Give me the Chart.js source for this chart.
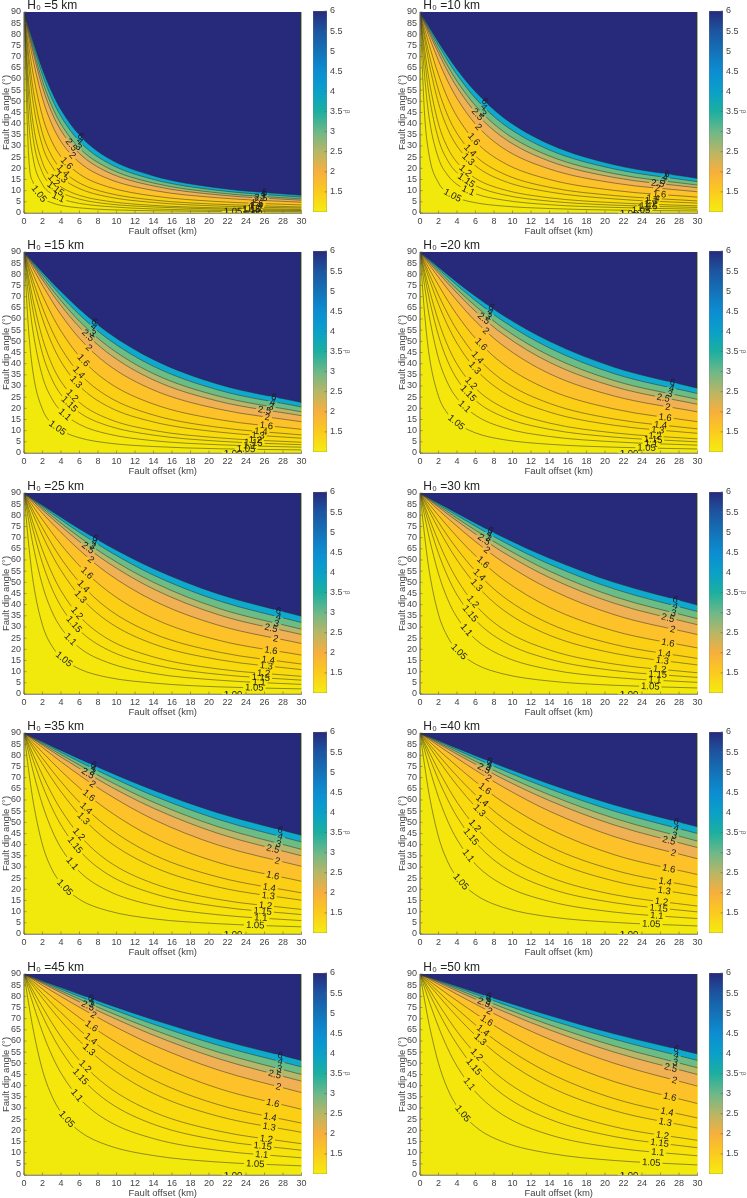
<!DOCTYPE html>
<html><head><meta charset="utf-8">
<style>html,body{margin:0;padding:0;background:#fff;width:747px;height:1198px;overflow:hidden}canvas{position:absolute}</style>
<script src="https://cdn.jsdelivr.net/npm/chart.js@4"></script>
</head><body>
<script>
// fault offset (km) at which each contour was read
const offsets = [0.5,1,2,3,4,6,9,14,21,30];
// contour levels of beta and the colour of the band above each level
const levels = ['1.00','1.05','1.1','1.15','1.2','1.3','1.4','1.6','2','2.5','3','4','6'];
const bandColors = ['#F2E90C','#F5E60B','#F7E30B','#F8DF0C','#F9DB0D','#FAD50F','#FBCF14','#FDC12A','#F0B155','#B5B76A','#6BBD85','#0FA9CE','#27297A'];
const baseColor = '#F2E90E';
const crustThickness = [5,10,15,20,25,30,35,40,45,50];
const xTicksStep = 2, yTicksStep = 5;
const colorbarTicks = [1.5,2,2.5,3,3.5,4,4.5,5,5.5,6];
const colorbarRange = [1,6];
const colorbarStops = [[1,'#F5EC0F'],[1.5,'#FBCB1E'],[2,'#F7AF3E'],[2.5,'#B8B666'],[3,'#6CB888'],[3.5,'#1CAFA0'],[4,'#0AA0C8'],[4.5,'#0C8DD2'],[5,'#1472B8'],[5.5,'#1C55A0'],[6,'#272A7C']];

// the lowest contour lies on the two axes
const edgeContour = [0,0,0,0,0,0,0,0,0,0];
// dip angle (deg) of each contour at the offsets above, one table per panel
const dip5 = [edgeContour,
[25.6,13.5,6.8,4.6,3.4,2.3,1.5,1,.7,.5],
[42,24.2,12.7,8.5,6.4,4.3,2.9,1.8,1.2,.9],
[52.4,33,18,12.2,9.2,6.2,4.1,2.7,1.8,1.2],
[58.9,39.7,22.5,15.5,11.7,7.9,5.3,3.4,2.3,1.6],
[66.5,49,29.9,21,16,10.9,7.3,4.7,3.1,2.2],
[70.7,55,35.6,25.5,19.7,13.4,9,5.8,3.9,2.7],
[75.1,62,43.2,32.1,25.2,17.4,11.8,7.6,5.1,3.6],
[78.7,68.2,51.3,39.8,32,22.6,15.5,10.1,6.8,4.8],
[80.5,71.6,56.3,45,36.9,26.6,18.4,12.1,8.1,5.7],
[81.5,73.3,59,48,39.8,29,20.3,13.4,9,6.3],
[82.4,75.1,61.9,51.3,43.2,32,22.6,15,10.1,7.1],
[83.2,76.5,64.3,54.3,46.2,34.8,24.8,16.6,11.2,7.9]];
const dip10 = [edgeContour,
[43.8,25.6,13.5,9.1,6.8,4.6,3.1,2,1.3,.9],
[61.2,42.3,24.5,16.9,12.8,8.6,5.8,3.7,2.5,1.7],
[69,52.4,33,23.4,18,12.2,8.2,5.3,3.5,2.5],
[73.3,59.1,39.9,29.1,22.7,15.5,10.5,6.8,4.6,3.2],
[77.8,66.6,49.1,37.6,30,21.1,14.4,9.4,6.3,4.4],
[80.1,70.7,55,43.6,35.6,25.5,17.6,11.5,7.8,5.4],
[82.4,75.1,61.9,51.3,43.2,32,22.6,15,10.1,7.1],
[84.3,78.7,68.2,59,51.3,39.8,29,19.7,13.4,9.5],
[85.2,80.5,71.6,63.4,56.3,45,33.7,23.2,15.9,11.3],
[85.7,81.5,73.3,65.8,59,48,36.5,25.5,17.6,12.5],
[86.2,82.4,75.1,68.2,61.9,51.3,39.8,28.2,19.7,14],
[86.6,83.2,76.5,70.2,64.3,54.3,42.8,30.8,21.6,15.5]];
const dip15 = [edgeContour,
[54.8,35.4,19.5,13.3,10.1,6.8,4.5,2.9,1.9,1.4],
[69.8,53.7,34.2,24.4,18.8,12.8,8.6,5.5,3.7,2.6],
[75.7,63,44.4,33.2,26.1,18.1,12.3,8,5.3,3.7],
[78.7,68.2,51.3,39.8,32,22.6,15.5,10.1,6.8,4.8],
[81.8,73.9,60,49.1,40.9,30,21,13.9,9.4,6.6],
[83.4,76.9,65,55,47,35.6,25.5,17,11.5,8.1],
[84.9,79.9,70.4,61.9,54.6,43.2,32,21.9,15,10.6],
[86.2,82.4,75.1,68.2,61.9,51.3,39.8,28.2,19.7,14],
[86.8,83.7,77.5,71.6,66,56.3,45,32.7,23.2,16.7],
[87.1,84.3,78.7,73.3,68.2,59,48,35.5,25.5,18.4],
[87.5,84.9,79.9,75.1,70.4,61.9,51.3,38.8,28.2,20.6],
[87.7,85.4,80.9,76.5,72.3,64.4,54.2,41.8,30.8,22.6]];
const dip20 = [edgeContour,
[62.2,43.5,25.4,17.6,13.4,9,6,3.9,2.6,1.8],
[74.6,61.2,42.3,31.2,24.5,16.9,11.4,7.4,5,3.5],
[79.2,69,52.5,41,33.1,23.5,16.2,10.6,7.1,5],
[81.5,73.3,59,48,39.8,29,20.3,13.4,9,6.3],
[83.8,77.8,66.6,57,49.1,37.6,27.2,18.3,12.4,8.8],
[85,80.1,70.7,62.3,55,43.6,32.4,22.2,15.2,10.8],
[86.2,82.4,75.1,68.2,61.9,51.3,39.8,28.2,19.7,14],
[87.1,84.3,78.7,73.3,68.2,59,48,35.5,25.5,18.4],
[87.6,85.2,80.5,76,71.6,63.4,53.1,40.6,29.7,21.8],
[87.9,85.7,81.5,77.3,73.3,65.8,55.9,43.6,32.4,24],
[88.1,86.2,82.4,78.7,75.1,68.2,59,47,35.5,26.6],
[88.3,86.6,83.2,79.8,76.5,70.2,61.6,50,38.4,29]];
const dip25 = [edgeContour,
[67.2,50,30.8,21.6,16.6,11.2,7.5,4.9,3.2,2.3],
[77.6,66.2,48.6,37.1,29.6,20.7,14.2,9.2,6.2,4.3],
[81.3,73,58.5,47.4,39.2,28.5,19.9,13.1,8.8,6.2],
[83.2,76.5,64.4,54.3,46.2,34.8,24.8,16.6,11.2,7.9],
[85,80.2,70.9,62.5,55.3,43.9,32.7,22.4,15.4,10.9],
[86,82,74.4,67.2,60.7,50,38.4,27,18.8,13.4],
[87,83.9,78,72.3,66.9,57.4,46.2,33.8,24.1,17.4],
[87.7,85.4,80.9,76.5,72.3,64.4,54.2,41.8,30.8,22.6],
[88.1,86.2,82.4,78.7,75.1,68.2,59,47,35.5,26.6],
[88.3,86.6,83.2,79.8,76.5,70.2,61.6,50,38.4,29],
[88.5,86.9,83.9,80.9,78,72.3,64.4,53.2,41.8,32],
[88.6,87.2,84.5,81.8,79.1,73.9,66.6,56.1,44.8,34.8]];
const dip30 = [edgeContour,
[70.7,55,35.6,25.5,19.7,13.4,9,5.8,3.9,2.7],
[79.6,69.9,53.8,42.3,34.3,24.5,16.9,11,7.4,5.2],
[82.7,75.7,62.9,52.5,44.4,33.1,23.5,15.6,10.5,7.4],
[84.3,78.7,68.2,59,51.3,39.8,29,19.7,13.4,9.5],
[85.9,81.8,73.9,66.6,60,49.1,37.6,26.3,18.2,13],
[86.7,83.3,76.9,70.7,65,55,43.6,31.5,22.2,15.9],
[87.5,84.9,79.9,75.1,70.4,61.9,51.3,38.8,28.2,20.6],
[88.1,86.2,82.4,78.7,75.1,68.2,59,47,35.5,26.6],
[88.4,86.8,83.7,80.5,77.5,71.6,63.4,52.1,40.6,31],
[88.6,87.1,84.3,81.5,78.7,73.3,65.8,55,43.6,33.7],
[88.7,87.5,84.9,82.4,79.9,75.1,68.2,58.1,47,36.9],
[88.9,87.7,85.4,83.2,80.9,76.5,70.2,60.8,50,39.8]];
const dip35 = [edgeContour,
[73.3,59.1,39.9,29.1,22.7,15.5,10.5,6.8,4.6,3.2],
[81.1,72.5,57.8,46.7,38.5,27.9,19.5,12.8,8.6,6],
[83.8,77.7,66.4,56.7,48.8,37.3,26.9,18.1,12.3,8.7],
[85.1,80.3,71.1,62.8,55.6,44.2,32.9,22.6,15.5,11],
[86.5,82.9,76.1,69.6,63.7,53.4,41.9,30,21,15.1],
[87.1,84.3,78.7,73.3,68.2,59,48,35.5,25.5,18.4],
[87.8,85.6,81.3,77.1,73,65.4,55.6,43.2,32,23.6],
[88.4,86.7,83.5,80.3,77.1,71.1,62.8,51.3,39.8,30.3],
[88.6,87.3,84.6,81.9,79.2,74.1,66.8,56.3,45,35],
[88.8,87.5,85.1,82.7,80.3,75.6,68.9,59,48,37.9],
[88.9,87.8,85.6,83.5,81.3,77.1,71.1,61.9,51.3,41.2],
[89,88,86.1,84.1,82.2,78.4,72.9,64.4,54.2,44.2]];
const dip40 = [edgeContour,
[75.3,62.2,43.5,32.3,25.4,17.6,11.9,7.7,5.2,3.6],
[82.2,74.6,61.2,50.5,42.3,31.2,22,14.6,9.8,6.9],
[84.5,79.2,69,60.1,52.5,41,30.1,20.4,14,9.9],
[85.7,81.5,73.3,65.8,59,48,36.5,25.5,17.6,12.5],
[86.9,83.8,77.8,72,66.6,57,45.7,33.4,23.7,17.1],
[87.5,85,80.1,75.3,70.7,62.3,51.8,39.2,28.6,20.9],
[88.1,86.2,82.4,78.7,75.1,68.2,59,47,35.5,26.6],
[88.6,87.1,84.3,81.5,78.7,73.3,65.8,55,43.6,33.7],
[88.8,87.6,85.2,82.9,80.5,76,69.4,59.7,48.8,38.7],
[88.9,87.9,85.7,83.6,81.5,77.3,71.3,62.3,51.8,41.6],
[89,88.1,86.2,84.3,82.4,78.7,73.3,65,55,45],
[89.1,88.3,86.6,84.9,83.2,79.8,74.9,67.2,57.8,48]];
const dip45 = [edgeContour,
[76.8,65,46.9,35.5,28.1,19.6,13.4,8.7,5.8,4.1],
[83,76.3,63.9,53.7,45.6,34.3,24.4,16.3,11,7.7],
[85.1,80.3,71.2,62.9,55.7,44.4,33.1,22.7,15.6,11.1],
[86.2,82.4,75.1,68.2,61.9,51.3,39.8,28.2,19.7,14],
[87.2,84.5,79.1,73.9,69,60,49.1,36.5,26.3,19.1],
[87.8,85.6,81.2,76.9,72.7,65,55,42.6,31.5,23.2],
[88.3,86.6,83.2,79.9,76.7,70.4,61.9,50.3,38.8,29.4],
[88.7,87.5,84.9,82.4,79.9,75.1,68.2,58.1,47,36.9],
[88.9,87.9,85.8,83.7,81.6,77.5,71.6,62.6,52.1,42],
[89,88.1,86.2,84.3,82.4,78.7,73.3,65,55,45],
[89.2,88.3,86.6,84.9,83.2,79.9,75.1,67.5,58.1,48.4],
[89.2,88.5,86.9,85.4,83.9,80.9,76.5,69.5,60.8,51.3]];
const dip50 = [edgeContour,
[78.1,67.2,50,38.4,30.8,21.6,14.8,9.7,6.5,4.5],
[83.7,77.6,66.3,56.6,48.7,37.2,26.8,18,12.2,8.6],
[85.6,81.3,73,65.3,58.5,47.4,35.9,25,17.2,12.2],
[86.6,83.2,76.5,70.2,64.3,54.3,42.8,30.8,21.6,15.5],
[87.5,85,80.2,75.4,70.9,62.5,52,39.5,28.8,21],
[88,86,82,78.1,74.4,67.2,57.8,45.6,34.2,25.5],
[88.5,86.9,83.9,80.9,78,72.3,64.4,53.2,41.8,32],
[88.9,87.7,85.4,83.2,80.9,76.5,70.2,60.8,50,39.8],
[89,88.1,86.2,84.3,82.4,78.7,73.3,65,55,45],
[89.1,88.3,86.6,84.9,83.2,79.8,74.9,67.2,57.8,48],
[89.2,88.5,86.9,85.4,83.9,80.9,76.5,69.5,60.8,51.3],
[89.3,88.6,87.2,85.9,84.5,81.8,77.8,71.4,63.2,54.2]];
const dipTables = [dip5,dip10,dip15,dip20,dip25,dip30,dip35,dip40,dip45,dip50];

// offsets of the inline contour labels, left group (from 1.05 up) and right group (from the edge contour up)
const labelsLeft = [
[1.6,3.7,3.4,3.2,4,4.2,4.6,5.2,5.1,5.9,6,6.1],
[3.5,5.2,5,4.9,5.2,5.4,5.8,6.3,6.2,6.8,6.9,7],
[3.6,4.4,4.9,5.2,5.6,5.9,6.4,7,6.9,7.4,7.5,7.6],
[3.9,4.8,5.2,5.5,5.9,6.2,6.6,7.1,6.9,7.4,7.6,7.7],
[4.3,5,5.4,5.7,6.1,6.4,6.8,7.2,6.9,7.4,7.6,7.7],
[4.2,5,5.4,5.7,6.1,6.4,6.8,7.2,6.9,7.4,7.5,7.6],
[4.4,5.2,5.5,5.9,6.4,6.7,7,7.4,6.9,7.4,7.5,7.5],
[4.4,5.2,5.5,5.9,6.4,6.7,7,7.4,6.9,7.4,7.5,7.5],
[4.6,5.7,6.1,6.6,7,7.2,7.3,7.5,6.9,7.3,7.3,7.2],
[4.6,5.3,5.8,6.1,6.5,6.8,7.2,7.5,6.9,7.4,7.4,7.4]];
const labelsRight = [
[24.8,22.6,24.3,24.6,24.8,25,25.1,25.2,25.1,25.6,25.8,25.9,26],
[22.6,23.9,24.2,24.7,24.9,25,25.2,25.9,25.7,25.7,26.3,26.5,26.7],
[22.6,24,24.4,24.8,25,25.3,25.6,26.2,26.3,26,26.7,26.9,27],
[22.6,24.5,25,25.2,25.4,25.7,26,26.5,26.8,26.3,27,27.2,27.3],
[22.6,24.9,25.4,25.6,25.9,26.2,26.4,26.7,27.2,26.7,27.3,27.5,27.5],
[22.6,24.9,25.4,25.7,25.9,26.2,26.4,26.8,27.3,26.8,27.4,27.6,27.6],
[22.6,25,25.6,25.8,26.1,26.4,26.5,26.9,27.4,26.9,27.5,27.7,27.7],
[22.6,25,25.6,25.8,26.1,26.4,26.5,26.9,27.4,26.9,27.5,27.7,27.7],
[22.6,25,25.7,25.8,26.2,26.5,26.6,26.9,27.5,27.1,27.6,27.7,27.7],
[22.6,25,25.7,25.9,26.2,26.5,26.7,27,27.5,27.1,27.6,27.7,27.7]];

const FONT = '"Liberation Sans", Arial, sans-serif';
const TEXT = '#444';
const colLefts = [24, 420];
const rowTops = [12, 252, 493, 733, 974];
const PLOT_W = 277.5, PLOT_H = 200;

function makeCanvas(left, top, w, h) {
  const c = document.createElement('canvas');
  c.width = w; c.height = h;
  c.style.left = left + 'px'; c.style.top = top + 'px';
  c.style.width = w + 'px'; c.style.height = h + 'px';
  document.body.appendChild(c);
  return c;
}

// geometry of the inline labels of one chart, placed on the contour through the library's scales
function labelGeometry(chart, rowIndex) {
  const { x: sx, y: sy } = chart.scales;
  const pxKm = Math.abs(sx.getPixelForValue(1) - sx.getPixelForValue(0));
  const pxDeg = Math.abs(sy.getPixelForValue(1) - sy.getPixelForValue(0));
  const cfg = chart.options.plugins.contourLabels;
  const row = cfg.table[rowIndex];
  let best = 0;
  row.forEach((v, i) => { if (Math.abs(v - 45) < Math.abs(row[best] - 45)) best = i; });
  const C = offsets[best] * Math.tan(row[best] * Math.PI / 180);
  const xs = [];
  if (rowIndex > 0 && cfg.left[rowIndex - 1] != null) xs.push(cfg.left[rowIndex - 1]);
  if (cfg.right[rowIndex] != null) xs.push(cfg.right[rowIndex]);
  const ctx = chart.ctx;
  ctx.save();
  ctx.font = '9.5px ' + FONT;
  const w = ctx.measureText(levels[rowIndex]).width;
  ctx.restore();
  return xs.map(x => {
    const y = Math.atan(C / x) * 180 / Math.PI;
    const slope = (180 / Math.PI) * C / (x * x + C * C);
    return { px: sx.getPixelForValue(x), py: sy.getPixelForValue(y),
             rot: Math.atan(slope * pxDeg / pxKm), w };
  });
}

const contourLabels = {
  id: 'contourLabels',
  beforeDatasetsDraw(chart) {
    const a = chart.chartArea, ctx = chart.ctx;
    ctx.save();
    ctx.fillStyle = baseColor;
    ctx.fillRect(a.left, a.top, a.width, a.height);
    ctx.restore();
  },
  beforeDatasetDraw(chart, args) {
    const ds = chart.data.datasets[args.index];
    if (ds.role !== 'line') return;
    const ctx = chart.ctx;
    ctx.save();
    ctx.beginPath();
    ctx.rect(0, 0, chart.width, chart.height);
    labelGeometry(chart, ds.row).forEach(g => {
      const hw = g.w / 2 + 2, hh = 4.5, c = Math.cos(g.rot), s = Math.sin(g.rot);
      const pts = [[-hw,-hh],[hw,-hh],[hw,hh],[-hw,hh]].map(([u, v]) => [g.px + u*c - v*s, g.py + u*s + v*c]);
      ctx.moveTo(pts[0][0], pts[0][1]);
      for (let i = 1; i < 4; i++) ctx.lineTo(pts[i][0], pts[i][1]);
      ctx.closePath();
    });
    ctx.clip('evenodd');
  },
  afterDatasetDraw(chart, args) {
    if (chart.data.datasets[args.index].role === 'line') chart.ctx.restore();
  },
  afterDatasetsDraw(chart) {
    const ctx = chart.ctx, a = chart.chartArea;
    ctx.save();
    ctx.beginPath();
    ctx.rect(a.left, a.top, a.width, a.height);
    ctx.clip();
    ctx.font = '9.5px ' + FONT;
    ctx.fillStyle = '#1c1c1c';
    ctx.textAlign = 'center';
    ctx.textBaseline = 'middle';
    levels.forEach((t, i) => {
      labelGeometry(chart, i).forEach(g => {
        ctx.save();
        ctx.translate(g.px, g.py);
        ctx.rotate(g.rot);
        ctx.fillText(t, 0, 0);
        ctx.restore();
      });
    });
    ctx.restore();
  }
};

const innerTicks = {
  id: 'innerTicks',
  afterDraw(chart) {
    const ctx = chart.ctx;
    ctx.save();
    ctx.strokeStyle = '#666';
    ctx.lineWidth = 0.6;
    ctx.beginPath();
    const a = chart.chartArea;
    if (chart.scales.x && chart.scales.x.options.display) {
      chart.scales.x.ticks.forEach(t => {
        const p = chart.scales.x.getPixelForValue(t.value);
        ctx.moveTo(p, a.bottom); ctx.lineTo(p, a.bottom - 2.5);
      });
    }
    if (chart.scales.y) {
      const vert = chart.config.type === 'bar' ? a.right : a.left;
      const dir = chart.config.type === 'bar' ? -2.5 : 2.5;
      chart.scales.y.ticks.forEach(t => {
        const p = chart.scales.y.getPixelForValue(t.value);
        ctx.moveTo(vert, p); ctx.lineTo(vert + dir, p);
      });
    }
    ctx.stroke();
    ctx.restore();
  }
};

function zeroPad(s) { s.paddingLeft = s.paddingRight = s.paddingTop = s.paddingBottom = 0; }

function drawPanel(i) {
  const col = i % 2, row = Math.floor(i / 2);
  const table = dipTables[i];
  const canvasLeft = colLefts[col] - 24;
  const canvas = makeCanvas(canvasLeft, rowTops[row] - 13, 310, 238);
  const datasets = [];
  table.forEach((vals, k) => {
    const pts = (vals === edgeContour ? [{ x: 0, y: 90 }, { x: 0, y: 0 }] : [{ x: 0, y: 90 }])
      .concat(vals.map((y, j) => ({ x: offsets[j], y })));
    datasets.push({ role: 'fill', row: k, data: pts, order: 100 - k, fill: 'end',
      backgroundColor: bandColors[k], borderWidth: 0, pointRadius: 0,
      cubicInterpolationMode: vals === edgeContour ? 'default' : 'monotone', tension: 0 });
    datasets.push({ role: 'line', row: k, data: pts, order: 1, fill: false, clip: vals === edgeContour ? 2 : undefined,
      borderColor: vals === edgeContour ? 'rgba(110,110,100,0.75)' : 'rgba(48,48,40,0.72)', borderWidth: 0.7, pointRadius: 0,
      cubicInterpolationMode: vals === edgeContour ? 'default' : 'monotone', tension: 0 });
  });
  new Chart(canvas, {
    type: 'line',
    data: { datasets },
    plugins: [contourLabels, innerTicks],
    options: {
      responsive: false, animation: false, events: [],
      layout: { padding: { left: 0, right: 310 - 24 - PLOT_W, top: 0, bottom: 0 } },
      plugins: {
        legend: { display: false }, tooltip: { enabled: false },
        title: { display: true, text: ' H\u2080 =' + crustThickness[i] + ' km', align: 'start', fullSize: false,
          color: '#222', font: { family: FONT, size: 12, weight: 'normal', lineHeight: 1 }, padding: { top: 1, bottom: 0 } },
        contourLabels: { table, left: labelsLeft[i], right: labelsRight[i] }
      },
      scales: {
        x: { type: 'linear', min: 0, max: 30,
          grid: { display: false, drawTicks: false }, border: { display: true, color: '#777', width: 0.7 },
          ticks: { stepSize: xTicksStep, maxRotation: 0, autoSkip: false, padding: 3, color: TEXT, font: { family: FONT, size: 9 } },
          title: { display: true, text: 'Fault offset (km)', color: TEXT, font: { family: FONT, size: 9.5 }, padding: 0 },
          afterFit(s) { s.height = 24; zeroPad(s); } },
        y: { type: 'linear', min: 0, max: 90,
          grid: { display: false, drawTicks: false }, border: { display: true, color: '#777', width: 0.7 },
          ticks: { stepSize: yTicksStep, autoSkip: false, padding: 3, color: TEXT, font: { family: FONT, size: 9 } },
          title: { display: true, text: 'Fault dip angle (\u00B0)', color: TEXT, font: { family: FONT, size: 9.5 }, padding: { top: 1, bottom: 0 } },
          afterFit(s) { s.width = 24; zeroPad(s); } }
      }
    }
  });

  // colour bar
  const barCanvas = makeCanvas(colLefts[col] + 289 - 8, rowTops[row] - 14, 46, 228);
  new Chart(barCanvas, {
    type: 'bar',
    data: { labels: ['\u03B2'], datasets: [{ data: [colorbarRange],
      categoryPercentage: 1, barPercentage: 1, borderWidth: 0.6, borderColor: '#777', borderSkipped: false,
      backgroundColor(c) {
        const y = c.chart.scales.y;
        if (!y || !c.chart.chartArea) return colorbarStops[0][1];
        const g = c.chart.ctx.createLinearGradient(0, y.getPixelForValue(colorbarRange[0]), 0, y.getPixelForValue(colorbarRange[1]));
        colorbarStops.forEach(([v, col2]) => g.addColorStop((v - colorbarRange[0]) / (colorbarRange[1] - colorbarRange[0]), col2));
        return g;
      } }] },
    plugins: [innerTicks],
    options: {
      responsive: false, animation: false, events: [],
      layout: { padding: { left: 8, right: 0, top: 13, bottom: 14 } },
      plugins: { legend: { display: false }, tooltip: { enabled: false } },
      scales: {
        x: { display: false },
        y: { position: 'right', min: colorbarRange[0], max: colorbarRange[1],
          grid: { display: false, drawTicks: false }, border: { display: false },
          afterBuildTicks(s) { s.ticks = colorbarTicks.map(v => ({ value: v })); },
          ticks: { autoSkip: false, padding: 3, color: TEXT, font: { family: FONT, size: 9 }, callback: v => String(v) },
          title: { display: true, text: '\u03B2', color: '#666', font: { family: FONT, size: 7 }, padding: 0 },
          afterFit(s) { s.width = 24; zeroPad(s); } }
      }
    }
  });
}
crustThickness.forEach((_, i) => drawPanel(i));
</script>
</body></html>
